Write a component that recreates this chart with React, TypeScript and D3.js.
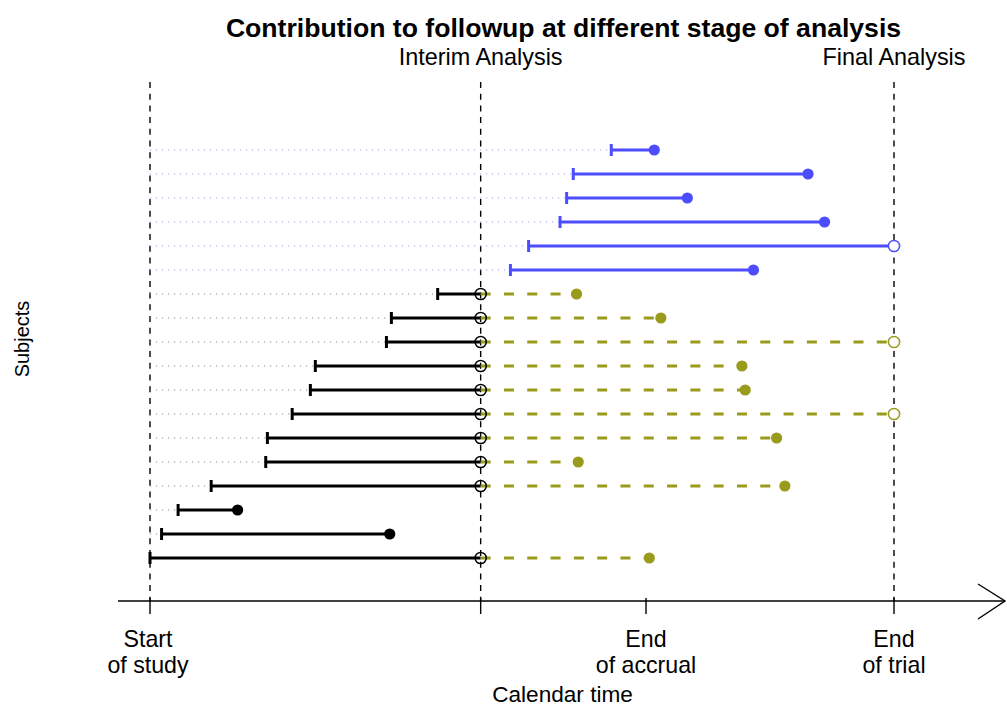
import React from "react";
import * as d3 from "d3";

// Study milestones on the calendar-time axis
const milestoneNames = ["Start\nof study", "", "End\nof accrual", "End\nof trial"];
const milestoneTimes = [0, 2, 3, 4.5];
const interimTime = 2;
const finalTime = 4.5;

// Subjects, ordered by entry time (first row at the bottom)
const entryTimes = [0, 0.07, 0.17, 0.37, 0.7, 0.71, 0.86, 0.97, 1.0, 1.43, 1.46, 1.74, 2.18, 2.29, 2.48, 2.52, 2.56, 2.79];
const exitTimes = [3.02, 1.45, 0.53, 3.84, 2.59, 3.79, 4.5, 3.6, 3.58, 4.5, 3.09, 2.58, 3.65, 4.5, 4.08, 3.25, 3.98, 3.05];
const eventFlags = [1, 1, 1, 1, 1, 1, 0, 1, 1, 0, 1, 1, 1, 0, 1, 1, 1, 1];

const W = 1007;
const H = 707;
const FONT = "'Liberation Sans', Arial, Helvetica, sans-serif";
const BLACK = "#000000";
const OLIVE = "#9a9a1c";
const BLUE = "#4d4dff";

export default function App() {
  const x = d3.scaleLinear().domain([0, 4.5]).range([150, 894]);
  const y = d3.scaleLinear().domain([0, entryTimes.length - 1]).range([558, 150]);
  const axisY = 601;
  const axisFrom = x.invert(118);
  const axisTo = x.invert(1005);
  const r = 5.6;

  const rows = entryTimes.map((entry, i) => {
    const exit = exitTimes[i];
    const ev = eventFlags[i] === 1;
    const yy = y(i);
    const lateEntry = entry >= interimTime;
    const parts: React.ReactNode[] = [];
    // waiting time before entry
    if (entry > 0) {
      parts.push(
        <line key="wait" x1={x(0)} x2={x(entry)} y1={yy} y2={yy}
          stroke={lateEntry ? "#9c9cf0" : "#8f8f8f"} strokeWidth={1} strokeDasharray="1.2 4.8" />
      );
    }
    if (lateEntry) {
      parts.push(<line key="fu" x1={x(entry)} x2={x(exit)} y1={yy} y2={yy} stroke={BLUE} strokeWidth={3} />);
      parts.push(<line key="tick" x1={x(entry)} x2={x(entry)} y1={yy - 6} y2={yy + 6} stroke={BLUE} strokeWidth={3} />);
      parts.push(
        <circle key="end" cx={x(exit)} cy={yy} r={r}
          fill={ev ? BLUE : "white"} stroke={BLUE} strokeWidth={ev ? 0 : 1.5} />
      );
    } else {
      const stop = Math.min(exit, interimTime);
      parts.push(<line key="fu" x1={x(entry)} x2={x(stop)} y1={yy} y2={yy} stroke={BLACK} strokeWidth={3} />);
      parts.push(<line key="tick" x1={x(entry)} x2={x(entry)} y1={yy - 6} y2={yy + 6} stroke={BLACK} strokeWidth={3} />);
      if (exit <= interimTime) {
        parts.push(<circle key="end" cx={x(exit)} cy={yy} r={r} fill={BLACK} />);
      } else {
        parts.push(
          <line key="later" x1={x(interimTime)} x2={x(exit)} y1={yy} y2={yy}
            stroke={OLIVE} strokeWidth={3} strokeDasharray="10 13.3" />
        );
        parts.push(
          <circle key="end" cx={x(exit)} cy={yy} r={r}
            fill={ev ? OLIVE : "white"} stroke={OLIVE} strokeWidth={ev ? 0 : 1.5} />
        );
        parts.push(
          <circle key="cut" cx={x(interimTime)} cy={yy} r={r} fill="none" stroke={BLACK} strokeWidth={1.5} />
        );
      }
    }
    return <g key={i}>{parts}</g>;
  });

  return (
    <svg width={W} height={H} style={{ position: "absolute", left: 0, top: 0, background: "white" }}
      fontFamily={FONT}>
      <rect width={W} height={H} fill="white" />
      <text x={563.5} y={37} textAnchor="middle" fontWeight="bold" fontSize={26.6}>
        Contribution to followup at different stage of analysis
      </text>
      <text x={x(interimTime)} y={65} textAnchor="middle" fontSize={23.4}>Interim Analysis</text>
      <text x={x(finalTime)} y={65} textAnchor="middle" fontSize={23.4}>Final Analysis</text>

      {[0, interimTime, finalTime].map((t) => (
        <line key={t} x1={x(t)} x2={x(t)} y1={82} y2={axisY}
          stroke={BLACK} strokeWidth={1.4} strokeDasharray="6 5.7" />
      ))}

      {rows}

      <line x1={x(axisFrom)} x2={x(axisTo)} y1={axisY} y2={axisY} stroke={BLACK} strokeWidth={1.4} />
      <polyline points={`${x(axisTo) - 27},${axisY - 17} ${x(axisTo)},${axisY} ${x(axisTo) - 27},${axisY + 18}`}
        fill="none" stroke={BLACK} strokeWidth={1.4} />
      {milestoneTimes.map((t, i) => (
        <g key={i}>
          <line x1={x(t)} x2={x(t)} y1={axisY - 3} y2={axisY + 13} stroke={BLACK} strokeWidth={1.4} />
          {milestoneNames[i].split("\n").map((s, j) => (
            <text key={j} x={x(t) - (i === 0 ? 2 : 0)} y={647 + j * 25.5} textAnchor="middle" fontSize={23.2}>{s}</text>
          ))}
        </g>
      ))}
      <text x={562.5} y={702} textAnchor="middle" fontSize={22.6}>Calendar time</text>
      <text transform="translate(29,339) rotate(-90)" textAnchor="middle" fontSize={20}>Subjects</text>
    </svg>
  );
}
